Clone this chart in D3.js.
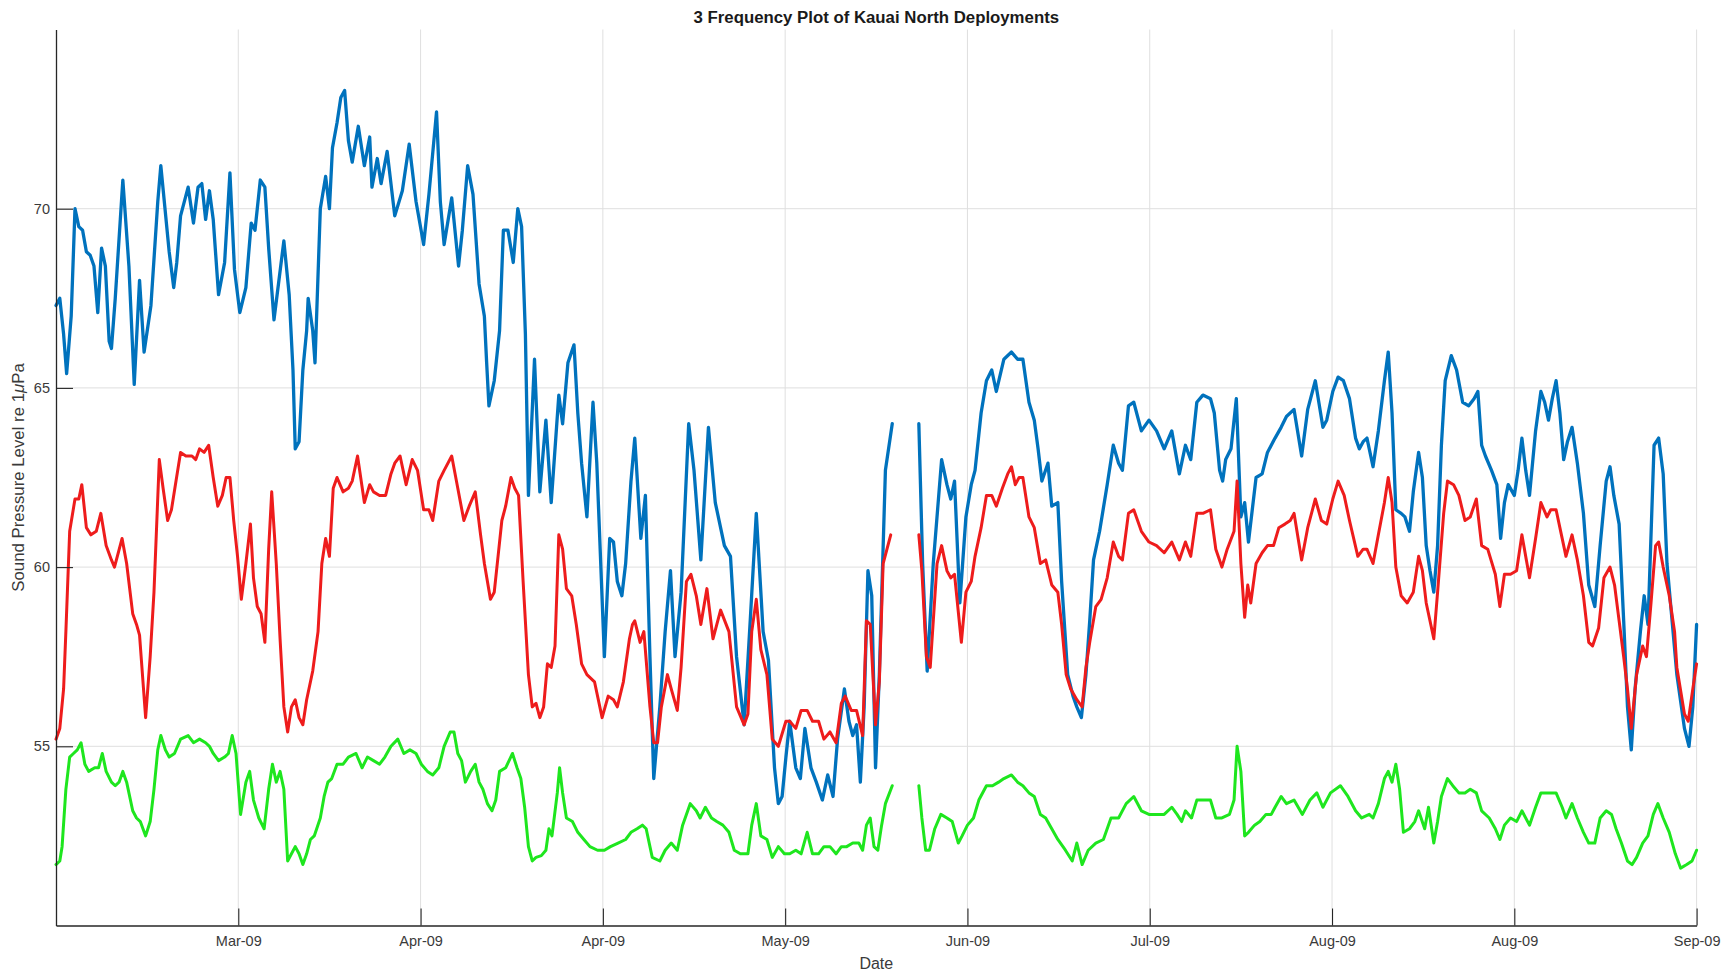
<!DOCTYPE html>
<html>
<head>
<meta charset="utf-8">
<script src="https://cdn.jsdelivr.net/npm/d3@7"></script>
<style>
  html, body { margin: 0; padding: 0; background: #ffffff; }
  svg { display: block; font-family: "Liberation Sans", Arial, Helvetica, sans-serif; }
</style>
</head>
<body>
<svg id="chart" width="1734" height="974"></svg>
<script>
// ---------------- DATA (day offset from start of deployment, SPL value) ----------------
const titleText = "3 Frequency Plot of Kauai North Deployments";
const xLabelText = "Date";
const tickDays = [24, 48, 72, 96, 120, 144, 168, 192, 216];
const tickLabels = ["Mar-09", "Apr-09", "Apr-09", "May-09", "Jun-09", "Jul-09", "Aug-09", "Aug-09", "Sep-09"];
const yTicks = [55, 60, 65, 70];
const seriesColors = ["#0072bd", "#ee1c1c", "#1ee61e"];

const blueSeries = [
[0,67.3],[0.5,67.5],[1,66.5],[1.4,65.4],[2,67.0],[2.5,70.0],[3,69.5],[3.5,69.4],[4,68.8],[4.5,68.7],[5,68.4],[5.5,67.1],[6,68.9],[6.5,68.4],[7,66.3],[7.3,66.1],[7.8,67.5],[8.8,70.8],[9.6,68.4],[10.3,65.1],[11,68.0],[11.6,66.0],[12.5,67.3],[13.4,70.2],[13.8,71.2],[14.9,68.8],[15.5,67.8],[15.9,68.5],[16.4,69.8],[17.4,70.6],[18.1,69.6],[18.7,70.6],[19.2,70.7],[19.7,69.7],[20.2,70.5],[20.7,69.7],[21.4,67.6],[22.2,68.5],[22.9,71.0],[23.5,68.3],[24.2,67.1],[25,67.8],[25.7,69.6],[26.2,69.4],[26.9,70.8],[27.5,70.6],[28,68.9],[28.7,66.9],[30,69.1],[30.7,67.6],[31.2,65.5],[31.5,63.3],[32,63.5],[32.5,65.5],[33,66.6],[33.2,67.5],[33.8,66.6],[34.1,65.7],[34.8,70.0],[35.5,70.9],[36,70.0],[36.4,71.7],[37,72.4],[37.5,73.1],[38,73.3],[38.5,71.9],[39,71.3],[39.8,72.3],[40.6,71.2],[41.3,72.0],[41.6,70.6],[42.3,71.4],[42.8,70.7],[43.6,71.6],[44.6,69.8],[45.6,70.5],[46.5,71.8],[47.4,70.2],[48.4,69.0],[49.1,70.4],[50.1,72.7],[50.6,70.2],[51.1,69.0],[52.1,70.3],[53,68.4],[53.5,69.4],[54.2,71.2],[54.9,70.4],[55.7,67.9],[56.4,67.0],[56.7,65.7],[57,64.5],[57.7,65.2],[58.4,66.6],[58.9,69.4],[59.5,69.4],[60.2,68.5],[60.8,70.0],[61.3,69.5],[61.8,66.5],[62.2,62.0],[63,65.8],[63.7,62.1],[64.5,64.1],[65.2,61.8],[66.2,64.8],[66.7,64.0],[67.4,65.7],[68.2,66.2],[68.7,64.3],[69.2,62.9],[69.9,61.4],[70.7,64.6],[71.2,62.9],[72.2,57.5],[72.9,60.8],[73.4,60.7],[73.9,59.6],[74.5,59.2],[75,60.1],[75.7,62.4],[76.2,63.6],[77,60.8],[77.6,62.0],[78.2,57.5],[78.7,54.1],[79.5,56.1],[80.2,58.2],[80.9,59.9],[81.5,57.5],[82.3,59.3],[83.3,64.0],[84,62.7],[84.9,60.2],[85.9,63.9],[86.8,61.8],[88,60.6],[88.8,60.3],[89.6,57.5],[90.6,55.6],[91.4,58.5],[92.2,61.5],[93.1,58.2],[93.8,57.4],[94.6,54.4],[95.1,53.4],[95.6,53.6],[96.1,54.7],[96.6,55.7],[97.4,54.4],[98,54.1],[98.6,55.5],[99.4,54.4],[100.1,54.0],[100.9,53.5],[101.6,54.2],[102.3,53.6],[102.9,55.2],[103.8,56.6],[104.4,55.7],[104.9,55.3],[105.4,55.6],[105.9,54.0],[106.4,56.1],[106.9,59.9],[107.4,59.2],[107.9,54.4],[108.4,57.0],[109.2,62.7],[110.1,64.0],[111.8,null],[113.6,64.0],[114.1,60.1],[114.7,57.1],[115.5,60.1],[116.6,63.0],[117.3,62.3],[117.8,61.9],[118.3,62.4],[119,59.0],[119.8,61.4],[120.5,62.3],[121,62.7],[121.8,64.3],[122.5,65.2],[123.2,65.5],[123.8,64.9],[124.8,65.8],[125.8,66.0],[126.6,65.8],[127.3,65.8],[128.1,64.6],[128.8,64.1],[129.3,63.3],[129.8,62.4],[130.6,62.9],[131.1,61.7],[131.9,61.8],[132.4,59.6],[133.2,57.0],[133.9,56.4],[134.4,56.1],[135,55.8],[135.6,57.0],[136.1,58.5],[136.6,60.2],[137.4,61.0],[138.4,62.3],[139.2,63.4],[139.9,62.9],[140.4,62.7],[141.2,64.5],[141.9,64.6],[142.9,63.8],[143.9,64.1],[144.9,63.8],[145.9,63.3],[146.9,63.8],[147.9,62.6],[148.7,63.4],[149.4,63.0],[150.2,64.6],[151,64.8],[152,64.7],[152.5,64.3],[153.2,62.7],[153.6,62.4],[154,63.0],[154.7,63.3],[155.4,64.7],[156,61.4],[156.5,61.8],[157,60.7],[158,62.5],[158.8,62.6],[159.5,63.2],[160.5,63.6],[161.3,63.9],[162,64.2],[163,64.4],[164,63.1],[164.8,64.4],[165.8,65.2],[166.8,63.9],[167.3,64.1],[168.1,64.9],[168.8,65.3],[169.5,65.2],[170.3,64.7],[171.1,63.6],[171.6,63.3],[172.1,63.5],[172.6,63.6],[173.4,62.8],[174.1,63.8],[174.9,65.2],[175.4,66.0],[175.9,64.3],[176.4,61.6],[177.1,61.5],[177.6,61.4],[178.2,61.0],[178.7,62.1],[179.4,63.2],[179.9,62.5],[180.4,60.6],[180.9,59.9],[181.4,59.3],[181.9,60.6],[182.4,63.4],[182.9,65.2],[183.7,65.9],[184.4,65.5],[185.2,64.6],[186,64.5],[186.7,64.7],[187.2,64.9],[187.7,63.4],[188.2,63.1],[189,62.7],[189.7,62.3],[190.2,60.8],[190.7,61.8],[191.2,62.3],[192,62.0],[192.5,62.7],[193,63.6],[193.5,62.7],[194,62.0],[194.8,63.8],[195.5,64.9],[196,64.6],[196.5,64.1],[197,64.7],[197.5,65.2],[198,64.3],[198.5,63.0],[199,63.5],[199.6,63.9],[200.3,62.9],[201.1,61.5],[201.8,59.5],[202.6,58.9],[203.3,60.6],[204.1,62.4],[204.6,62.8],[205.1,62.0],[205.8,61.2],[206.4,58.5],[206.9,56.1],[207.4,54.9],[207.9,56.6],[208.6,58.2],[209.1,59.2],[209.6,58.4],[210.4,63.4],[211,63.6],[211.6,62.6],[212.1,60.1],[212.9,58.2],[213.4,57.0],[214.4,55.5],[215,55.0],[215.5,56.1],[216,58.4]
];

const redSeries = [
[0,55.2],[0.5,55.5],[1,56.6],[1.3,58.2],[1.8,61.0],[2.5,61.9],[3,61.9],[3.4,62.3],[4,61.1],[4.6,60.9],[5.3,61.0],[5.9,61.5],[6.6,60.6],[7.3,60.2],[7.7,60.0],[8.7,60.8],[9.3,60.1],[10.1,58.7],[10.6,58.4],[11,58.1],[11.8,55.8],[12.4,57.5],[12.9,59.3],[13.6,63.0],[14.1,62.2],[14.7,61.3],[15.2,61.6],[15.8,62.4],[16.4,63.2],[17.1,63.1],[17.9,63.1],[18.4,63.0],[18.9,63.3],[19.5,63.2],[20.1,63.4],[20.7,62.5],[21.3,61.7],[21.9,62.0],[22.4,62.5],[22.9,62.5],[23.4,61.3],[23.9,60.3],[24.4,59.1],[25,60.1],[25.6,61.2],[26,59.7],[26.5,58.9],[27,58.7],[27.5,57.9],[28,60.5],[28.4,62.1],[29,60.1],[29.5,58.0],[30,56.1],[30.5,55.4],[31,56.1],[31.5,56.3],[32,55.8],[32.5,55.6],[33,56.3],[33.8,57.1],[34.5,58.2],[35,60.1],[35.5,60.8],[36,60.3],[36.5,62.2],[37,62.5],[37.8,62.1],[38.5,62.2],[39,62.4],[39.7,63.1],[40.6,61.8],[41.3,62.3],[41.8,62.1],[42.6,62.0],[43.4,62.0],[44.1,62.6],[44.6,62.9],[45.3,63.1],[46.1,62.3],[46.9,63.0],[47.6,62.7],[48.4,61.6],[49.1,61.6],[49.6,61.3],[50.4,62.4],[51.1,62.7],[52.1,63.1],[52.9,62.2],[53.7,61.3],[54.4,61.7],[55.2,62.1],[55.9,60.9],[56.4,60.1],[57.2,59.1],[57.7,59.3],[58.2,60.3],[58.7,61.3],[59.2,61.7],[59.9,62.5],[60.4,62.2],[60.9,62.0],[61.5,59.6],[62.2,57.0],[62.7,56.1],[63.2,56.2],[63.7,55.8],[64.2,56.1],[64.7,57.3],[65.2,57.2],[65.7,57.8],[66.2,60.9],[66.7,60.5],[67.2,59.4],[67.9,59.2],[68.5,58.4],[69.2,57.3],[69.9,57.0],[70.9,56.8],[71.9,55.8],[72.7,56.4],[73.4,56.3],[73.9,56.1],[74.7,56.8],[75.5,58.0],[75.9,58.4],[76.2,58.5],[76.9,57.9],[77.4,58.2],[78.2,56.1],[78.7,55.1],[79.2,55.1],[79.7,56.1],[80.5,57.0],[81,56.6],[81.8,56.0],[82.3,57.2],[83,59.6],[83.6,59.8],[84.3,59.2],[84.9,58.4],[85.7,59.4],[86.5,58.0],[87.5,58.8],[88.6,58.2],[89.6,56.1],[90.6,55.6],[91.1,55.9],[91.6,58.2],[92.2,59.1],[92.8,57.7],[93.6,57.0],[94.3,55.2],[95.1,55.0],[96.1,55.7],[96.6,55.7],[97.4,55.5],[98.1,56.0],[98.9,56.0],[99.6,55.7],[100.4,55.7],[101.1,55.2],[101.9,55.4],[102.7,55.1],[103.4,56.2],[103.9,56.4],[104.7,56.0],[105.4,56.0],[106.2,55.3],[106.7,58.5],[107.2,58.4],[107.9,55.6],[108.4,56.8],[108.9,60.1],[109.9,60.9],[111.8,null],[113.6,60.9],[114,59.9],[114.6,57.5],[115.1,57.2],[116,60.1],[116.6,60.6],[117.3,59.9],[117.8,59.7],[118.3,59.8],[119.2,57.9],[119.8,59.3],[120.5,59.6],[121,60.3],[121.8,61.1],[122.5,62.0],[123.2,62.0],[123.8,61.7],[124.6,62.2],[125.3,62.6],[125.8,62.8],[126.3,62.3],[126.8,62.5],[127.3,62.5],[128.1,61.4],[128.8,61.1],[129.6,60.1],[130.3,60.2],[131.1,59.5],[131.9,59.3],[132.4,58.4],[133,57.0],[133.6,56.6],[134.4,56.3],[135.1,56.1],[135.6,57.2],[136.1,57.9],[136.9,58.9],[137.6,59.1],[138.4,59.7],[139.2,60.7],[139.9,60.3],[140.4,60.2],[141.2,61.5],[141.9,61.6],[142.9,61.0],[143.9,60.7],[144.9,60.6],[145.9,60.4],[146.9,60.7],[147.9,60.2],[148.7,60.7],[149.4,60.3],[150.2,61.5],[151,61.5],[152,61.6],[152.7,60.5],[153.5,60.0],[154.2,60.5],[155.1,61.0],[155.5,62.4],[156,60.1],[156.5,58.6],[156.9,59.5],[157.3,59.0],[158,60.1],[158.8,60.4],[159.5,60.6],[160.3,60.6],[161,61.1],[161.8,61.2],[162.5,61.3],[163,61.5],[164,60.2],[164.8,61.1],[165.8,61.9],[166.6,61.3],[167.3,61.2],[168.1,61.9],[168.8,62.4],[169.6,62.0],[170.3,61.3],[171.4,60.3],[172.1,60.5],[172.6,60.5],[173.4,60.1],[174.1,60.9],[174.9,61.8],[175.4,62.5],[175.9,61.8],[176.4,60.0],[177.1,59.2],[177.9,59.0],[178.7,59.3],[179.4,60.3],[179.9,59.9],[180.4,59.0],[181.4,58.0],[181.9,59.3],[182.7,61.5],[183.2,62.4],[184,62.3],[184.7,62.0],[185.5,61.3],[186.2,61.4],[187,61.9],[187.7,60.6],[188.5,60.5],[189.5,59.8],[190.1,58.9],[190.7,59.8],[191.5,59.8],[192.3,59.9],[193,60.9],[194,59.7],[194.8,60.8],[195.5,61.8],[196.3,61.4],[196.8,61.6],[197.5,61.6],[198.3,60.8],[198.8,60.3],[199.6,60.9],[200.3,60.2],[201.1,59.2],[201.8,57.9],[202.3,57.8],[203.1,58.3],[203.8,59.7],[204.6,60.0],[205.2,59.5],[205.8,58.5],[206.4,57.5],[206.9,56.6],[207.4,55.5],[208.1,57.0],[208.9,57.8],[209.4,57.5],[210,59.0],[210.6,60.6],[211,60.7],[211.6,60.0],[212.4,59.2],[213.1,58.2],[213.4,57.2],[214.4,55.9],[214.9,55.7],[215.5,56.6],[216,57.3]
];

const greenSeries = [
[0,51.7],[0.5,51.8],[0.8,52.2],[1.3,53.8],[1.8,54.7],[2.3,54.8],[2.8,54.9],[3.3,55.1],[3.8,54.5],[4.3,54.3],[5.1,54.4],[5.6,54.4],[6.1,54.8],[6.6,54.3],[7.3,54.0],[7.8,53.9],[8.3,54.0],[8.8,54.3],[9.3,54.0],[10.1,53.2],[10.6,53.0],[11.1,52.9],[11.8,52.5],[12.4,52.9],[12.9,53.8],[13.4,54.9],[13.8,55.3],[14.4,54.9],[14.9,54.7],[15.6,54.8],[16.4,55.2],[17.4,55.3],[18.1,55.1],[18.9,55.2],[19.7,55.1],[20.2,55.0],[20.7,54.8],[21.4,54.6],[22.2,54.7],[22.7,54.8],[23.2,55.3],[23.7,54.8],[24.3,53.1],[25,54.0],[25.5,54.3],[26,53.5],[26.7,53.0],[27.4,52.7],[28,53.8],[28.5,54.5],[29,54.0],[29.5,54.3],[30,53.8],[30.5,51.8],[31,52.0],[31.5,52.2],[32,52.0],[32.5,51.7],[33,52.0],[33.5,52.4],[34,52.5],[34.8,53.0],[35.3,53.6],[35.8,54.0],[36.3,54.1],[37,54.5],[37.8,54.5],[38.5,54.7],[39.5,54.8],[40.3,54.4],[41,54.7],[41.8,54.6],[42.6,54.5],[43.3,54.7],[44.1,55.0],[45,55.2],[45.8,54.8],[46.6,54.9],[47.4,54.8],[48.1,54.5],[48.9,54.3],[49.6,54.2],[50.4,54.4],[51.1,55.0],[51.9,55.4],[52.4,55.4],[52.9,54.8],[53.4,54.6],[53.9,54.0],[54.6,54.3],[55.2,54.5],[55.7,54.0],[56.2,53.8],[56.8,53.4],[57.4,53.2],[57.9,53.5],[58.4,54.3],[59.2,54.4],[60.1,54.8],[60.7,54.4],[61.2,54.1],[61.7,53.3],[62.2,52.2],[62.7,51.8],[63.2,51.9],[63.9,51.95],[64.5,52.1],[64.9,52.7],[65.3,52.5],[66,53.7],[66.3,54.4],[66.7,53.7],[67.2,53.0],[68,52.9],[68.7,52.6],[69.5,52.4],[70.3,52.2],[71.3,52.1],[72.2,52.1],[73,52.2],[74,52.3],[75,52.4],[75.7,52.6],[76.5,52.7],[77.2,52.8],[77.7,52.7],[78.5,51.9],[79.5,51.8],[80.2,52.1],[81,52.3],[81.8,52.1],[82.5,52.8],[83.5,53.4],[84.3,53.2],[84.8,53.0],[85.5,53.3],[86.3,53.0],[87,52.9],[87.8,52.8],[88.6,52.6],[89.3,52.1],[90.1,52.0],[91.1,52.0],[91.6,52.8],[92.2,53.4],[92.8,52.5],[93.6,52.4],[94.3,51.9],[95.1,52.2],[95.9,52.0],[96.6,52.0],[97.4,52.1],[98.1,52.0],[98.9,52.6],[99.6,52.0],[100.4,52.0],[101.1,52.2],[101.9,52.2],[102.7,52.0],[103.4,52.2],[104.1,52.2],[104.9,52.3],[105.7,52.3],[106.2,52.1],[106.7,52.8],[107.2,53.0],[107.7,52.2],[108.2,52.1],[108.7,52.8],[109.2,53.4],[110.1,53.9],[111.8,null],[113.6,53.9],[114,53.0],[114.5,52.1],[115,52.1],[115.7,52.7],[116.5,53.1],[117.3,53.0],[118,52.9],[118.8,52.3],[119.3,52.5],[120,52.8],[120.8,53.0],[121.5,53.5],[122.5,53.9],[123.3,53.9],[124.1,54.0],[124.8,54.1],[125.8,54.2],[126.6,54.0],[127.3,53.9],[128.1,53.7],[128.8,53.6],[129.6,53.1],[130.3,53.0],[131.1,52.7],[131.9,52.4],[132.9,52.1],[133.8,51.8],[134.4,52.3],[135.1,51.7],[135.9,52.1],[136.9,52.3],[137.9,52.4],[138.9,53.0],[139.9,53.0],[140.9,53.4],[141.9,53.6],[142.9,53.2],[143.9,53.1],[144.9,53.1],[145.9,53.1],[146.9,53.3],[147.6,53.1],[148.2,52.9],[148.7,53.2],[149.5,53.0],[150.2,53.5],[151,53.5],[152,53.5],[152.7,53.0],[153.5,53.0],[154.5,53.1],[155.1,53.5],[155.5,55.0],[156,54.3],[156.5,52.5],[157,52.6],[157.8,52.8],[158.5,52.9],[159.3,53.1],[160,53.1],[160.5,53.3],[161.3,53.6],[162,53.4],[163,53.5],[164.1,53.1],[165.1,53.5],[166,53.7],[166.8,53.3],[167.8,53.7],[169.1,53.9],[170.1,53.6],[171.1,53.2],[171.9,53.0],[172.9,53.1],[173.4,53.0],[174.1,53.4],[174.9,54.1],[175.4,54.3],[175.9,54.0],[176.4,54.5],[176.9,53.8],[177.4,52.6],[178.2,52.7],[178.9,52.9],[179.4,53.2],[180.2,52.7],[180.7,53.3],[181.4,52.3],[181.9,52.9],[182.4,53.6],[183.2,54.1],[183.9,53.9],[184.7,53.7],[185.5,53.7],[186.2,53.8],[187,53.7],[187.7,53.2],[188.7,53.0],[189.5,52.7],[190.1,52.4],[190.7,52.8],[191.5,53.0],[192.3,52.9],[193,53.2],[194,52.8],[194.8,53.3],[195.5,53.7],[196.3,53.7],[197,53.7],[197.5,53.7],[198.3,53.3],[198.8,53.0],[199.6,53.4],[200.3,53.0],[201.1,52.6],[201.8,52.3],[202.6,52.3],[203.3,53.0],[204.1,53.2],[204.8,53.1],[205.4,52.7],[206.1,52.3],[206.9,51.8],[207.5,51.7],[208.1,51.9],[208.9,52.3],[209.6,52.5],[210.3,53.1],[210.9,53.4],[211.6,53.0],[212.4,52.6],[213.2,52.0],[213.9,51.6],[214.7,51.7],[215.4,51.8],[216,52.1]
];

// ---------------- LAYOUT ----------------
const W = 1734, H = 974;
const plotLeft = 56, plotRight = 1696.6, plotTop = 29.5, plotBottom = 925.5;
const axisColor = "#262626";

const svg = d3.select("#chart");
svg.append("rect").attr("width", W).attr("height", H).attr("fill", "#ffffff");

const x = d3.scaleLinear().domain([0, 216]).range([plotLeft, plotRight]);
const y = d3.scaleLinear().domain([50, 75]).range([plotBottom, plotTop]);

// grid
const grid = svg.append("g").attr("class", "grid");
grid.selectAll("line.vg").data(tickDays).join("line")
  .attr("x1", d => x(d)).attr("x2", d => x(d))
  .attr("y1", plotTop).attr("y2", plotBottom)
  .attr("stroke", "#dfdfdf").attr("stroke-width", 1);
grid.selectAll("line.hg").data(yTicks).join("line")
  .attr("x1", plotLeft).attr("x2", plotRight)
  .attr("y1", d => y(d)).attr("y2", d => y(d))
  .attr("stroke", "#dfdfdf").attr("stroke-width", 1);

// lines
const line = d3.line()
  .defined(d => d[1] !== null)
  .x(d => x(d[0]))
  .y(d => y(d[1]))
  .curve(d3.curveLinear);

const allSeries = [blueSeries, redSeries, greenSeries];
const widths = [3.3, 3, 3];
svg.append("g").attr("class", "series")
  .selectAll("path").data(allSeries).join("path")
  .attr("d", d => line(d))
  .attr("fill", "none")
  .attr("stroke", (d, i) => seriesColors[i])
  .attr("stroke-width", (d, i) => widths[i])
  .attr("stroke-linejoin", "round")
  .attr("stroke-linecap", "round");

// axes
const xAxis = d3.axisBottom(x)
  .tickValues(tickDays)
  .tickFormat((d, i) => tickLabels[i])
  .tickSizeInner(-17).tickSizeOuter(0).tickPadding(10);
const gx = svg.append("g").attr("transform", `translate(0,${plotBottom})`).call(xAxis);

const yAxis = d3.axisLeft(y)
  .tickValues(yTicks)
  .tickFormat(d3.format("d"))
  .tickSizeInner(-17).tickSizeOuter(0).tickPadding(6);
const gy = svg.append("g").attr("transform", `translate(${plotLeft},0)`).call(yAxis);

[gx, gy].forEach(g => {
  g.select(".domain").attr("stroke", axisColor).attr("stroke-width", 1.3);
  g.selectAll(".tick line").attr("stroke", axisColor).attr("stroke-width", 1.1);
  g.selectAll(".tick text")
    .attr("fill", "#3a3a3a")
    .style("font-family", "'Liberation Sans', Arial, sans-serif")
    .style("font-size", "14.5px");
});

// title
svg.append("text")
  .attr("x", (plotLeft + plotRight) / 2).attr("y", 23)
  .attr("text-anchor", "middle")
  .style("font-size", "16.8px").style("font-weight", "bold")
  .attr("fill", "#1a1a1a")
  .text(titleText);

// x label
svg.append("text")
  .attr("x", (plotLeft + plotRight) / 2).attr("y", 969)
  .attr("text-anchor", "middle")
  .style("font-size", "16px")
  .attr("fill", "#3a3a3a")
  .text(xLabelText);

// y label
const yl = svg.append("text")
  .attr("transform", `translate(24,${(plotTop + plotBottom) / 2}) rotate(-90)`)
  .attr("text-anchor", "middle")
  .style("font-size", "16.8px")
  .attr("fill", "#3a3a3a");
yl.append("tspan").text("Sound Pressure Level re 1");
yl.append("tspan").style("font-style", "italic").text("\u03bc");
yl.append("tspan").text("Pa");
</script>
</body>
</html>
